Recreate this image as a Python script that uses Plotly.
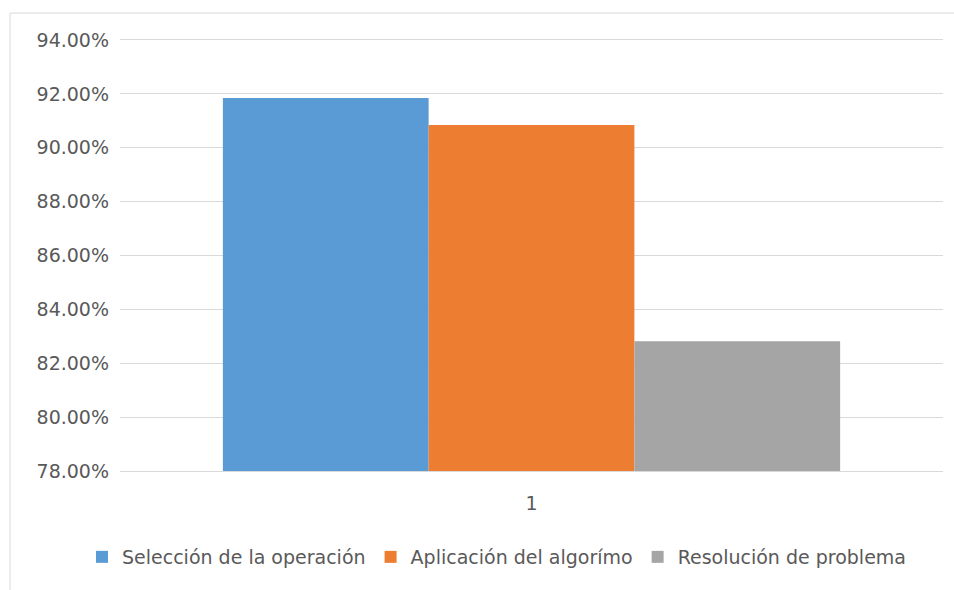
import plotly.graph_objects as go

categories = ["1"]
series_names = ["Selección de la operación", "Aplicación del algorímo", "Resolución de problema"]
values_seleccion = [0.9185]
values_aplicacion = [0.9084]
values_resolucion = [0.8282]
colors = ["#5B9BD5", "#ED7D31", "#A5A5A5"]

W, H = 954, 590
L, R, T, B = 120, 11, 40, 119
pw, ph = W - L - R, H - T - B

def px_x(x):
    return (x - L) / pw

def px_y(y):
    return (H - B - y) / ph

fig = go.Figure()
for name, vals, col in zip(series_names, [values_seleccion, values_aplicacion, values_resolucion], colors):
    fig.add_trace(go.Bar(x=categories, y=vals, name=name, marker=dict(color=col, line=dict(width=0))))

font = "DejaVu Sans"
fs = 19
fig.update_layout(
    width=W, height=H,
    margin=dict(l=L, r=R, t=T, b=B),
    paper_bgcolor="white", plot_bgcolor="white",
    barmode="group", bargap=0.25, bargroupgap=0,
    font=dict(family=font, size=fs, color="#595959"),
    showlegend=True,
    legend=dict(orientation="h", x=px_x(82), xanchor="left", y=px_y(557), yanchor="middle",
                font=dict(family=font, size=fs, color="#595959"), itemwidth=30,
                traceorder="normal"),
    yaxis=dict(range=[0.78, 0.94], dtick=0.02, tick0=0.78, tickformat=".2%",
               showgrid=True, gridcolor="#D9D9D9", gridwidth=1, zeroline=False,
               showline=False, ticks="", ticklabelstandoff=10,
               tickfont=dict(family=font, size=fs, color="#595959")),
    xaxis=dict(showgrid=False, showline=True, mirror=True, linecolor="#D9D9D9", linewidth=1,
               ticks="", ticklabelstandoff=15,
               tickfont=dict(family=font, size=fs, color="#595959")),
    shapes=[dict(type="rect", xref="paper", yref="paper",
                 x0=px_x(10), x1=px_x(960), y0=px_y(596), y1=px_y(13),
                 line=dict(color="#D9D9D9", width=1), fillcolor="rgba(0,0,0,0)", layer="below")],
)

fig.write_html("out.html")
